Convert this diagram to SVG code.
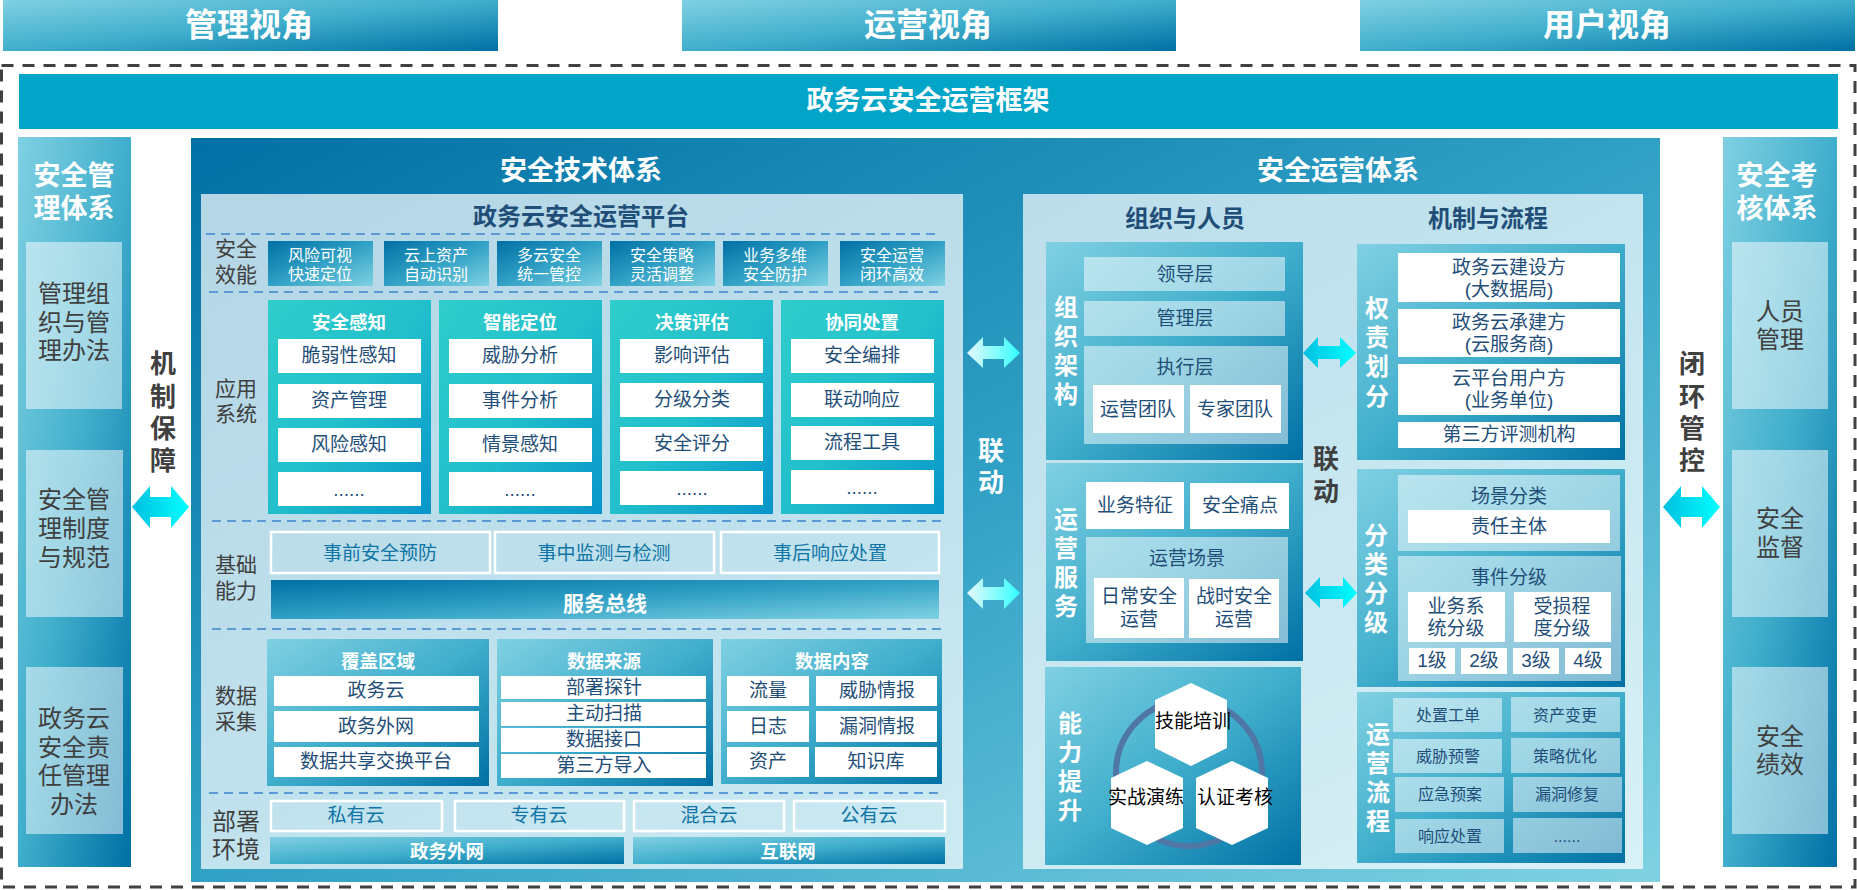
<svg xmlns="http://www.w3.org/2000/svg" width="1857" height="890" viewBox="0 0 1857 890">
<style>
text{font-family:"Liberation Sans","Noto Sans CJK SC",sans-serif;text-anchor:middle;dominant-baseline:central;transform:translateY(-2px)}
tspan{dominant-baseline:central}
.b{font-weight:700;fill:#fff}
.db{font-weight:700;fill:#404040}
.nb{font-weight:700;fill:#1F4E79}
.d{fill:#404040}
.n{fill:#1F4E79}
.t{fill:#0F75A6}
.w{fill:#fff}
.k{fill:#000}
.s16{font-size:16px}.s18{font-size:18.5px}.s19{font-size:19px}.s21{font-size:21px}.s24{font-size:24px}.s26{font-size:26px}.s27{font-size:27px}.s31{font-size:32px}
.dash{stroke:#5B9BD5;stroke-width:2;stroke-dasharray:9 6;fill:none}
.out{fill:none;stroke:#fff;stroke-width:2.5}
.wh{fill:#fff}
.li{fill:url(#lightDark)}
.da{fill:url(#darkLight)}
.pa{fill:#fff;fill-opacity:.5}
.pl{fill:#fff;fill-opacity:.7}
.te{fill:url(#teal)}
</style>
<defs>
<linearGradient id="lightDark" x1="0" y1="0" x2="1" y2="1"><stop offset="0" stop-color="#80D0E2"/><stop offset=".5" stop-color="#3FAECC"/><stop offset="1" stop-color="#0070A5"/></linearGradient>
<linearGradient id="darkLight" x1="0" y1="0" x2="1" y2="1"><stop offset="0" stop-color="#0070A5"/><stop offset=".5" stop-color="#30A0C5"/><stop offset="1" stop-color="#80D2E2"/></linearGradient>
<linearGradient id="teal" x1="0" y1="0" x2="1" y2="1"><stop offset="0" stop-color="#30CDCC"/><stop offset=".5" stop-color="#22BFCC"/><stop offset="1" stop-color="#0795CA"/></linearGradient>
<linearGradient id="cy" x1="0" y1="0" x2="1" y2="0"><stop offset="0" stop-color="#00BFE0"/><stop offset="1" stop-color="#00FFFF"/></linearGradient>
<linearGradient id="wc" x1="0" y1="0" x2="1" y2="0"><stop offset="0" stop-color="#E6F8FA"/><stop offset="1" stop-color="#33FFFF"/></linearGradient>
</defs>
<rect width="1857" height="890" fill="#fff"/>
<g id="view-mgmt"><rect class="li" x="3" width="495" height="51"/><text class="b s31" x="249" y="27">管理视角</text></g>
<g id="view-ops"><rect class="li" x="682" width="494" height="51"/><text class="b s31" x="928" y="27">运营视角</text></g>
<g id="view-user"><rect class="li" x="1360" width="495" height="51"/><text class="b s31" x="1607" y="27">用户视角</text></g>
<rect id="frame" x="1.5" y="65.5" width="1853.5" height="821.5" fill="none" stroke="#404040" stroke-width="3" stroke-dasharray="12 9"/>
<g id="title"><rect x="19" y="74" width="1819" height="55" fill="#02A5C7"/><text class="b s27" x="928" y="103">政务云安全运营框架</text></g>

<g id="mgmt-system"><rect class="li" x="18" y="137" width="113" height="730"/>
<text class="b s27"><tspan x="74" y="177.5">安全管</tspan><tspan x="74" y="210.5">理体系</tspan></text>
<rect class="pa" x="26" y="242" width="96" height="167"/><rect class="pa" x="26" y="450" width="97" height="167"/><rect class="pa" x="26" y="667" width="97" height="167"/>
<g class="d s24"><text><tspan x="74" y="295">管理组</tspan><tspan x="74" y="324">织与管</tspan><tspan x="74" y="352">理办法</tspan></text>
<text><tspan x="74" y="501">安全管</tspan><tspan x="74" y="530">理制度</tspan><tspan x="74" y="559">与规范</tspan></text>
<text><tspan x="74" y="720">政务云</tspan><tspan x="74" y="749">安全责</tspan><tspan x="74" y="777">任管理</tspan><tspan x="74" y="806">办法</tspan></text></g></g>

<g id="assess-system"><rect class="li" x="1723" y="137" width="114" height="730"/>
<text class="b s27"><tspan x="1777" y="177.5">安全考</tspan><tspan x="1777" y="210.5">核体系</tspan></text>
<rect class="pa" x="1732" y="242" width="96" height="167"/><rect class="pa" x="1732" y="450" width="96" height="167"/><rect class="pa" x="1732" y="667" width="96" height="167"/>
<g class="d s24"><text><tspan x="1780" y="313">人员</tspan><tspan x="1780" y="341">管理</tspan></text><text><tspan x="1780" y="520">安全</tspan><tspan x="1780" y="549">监督</tspan></text><text><tspan x="1780" y="738">安全</tspan><tspan x="1780" y="766">绩效</tspan></text></g></g>

<g id="mechanism-label"><text class="db s26"><tspan x="163" y="366">机</tspan><tspan x="163" y="399">制</tspan><tspan x="163" y="431">保</tspan><tspan x="163" y="463">障</tspan></text></g>
<g id="closed-loop-label"><text class="db s26"><tspan x="1692" y="366">闭</tspan><tspan x="1692" y="399">环</tspan><tspan x="1692" y="431">管</tspan><tspan x="1692" y="463">控</tspan></text></g>

<g id="main-panel"><rect class="da" x="191" y="138" width="1469" height="744"/>
<text class="b s27" x="581" y="173">安全技术体系</text><text class="b s27" x="1338" y="173">安全运营体系</text></g>

<g id="platform"><rect class="pl" x="201" y="194" width="762" height="675"/>
<text class="s24 nb" x="581" y="218">政务云安全运营平台</text>
<path class="dash" d="M206 234H940M209 292H942M212 521H945M212 629H945M209 793H942"/>
<g class="d s21"><text><tspan x="236" y="250">安全</tspan><tspan x="236" y="276">效能</tspan></text><text><tspan x="236" y="390">应用</tspan><tspan x="236" y="415">系统</tspan></text><text><tspan x="236" y="566">基础</tspan><tspan x="236" y="592">能力</tspan></text><text><tspan x="236" y="697">数据</tspan><tspan x="236" y="723">采集</tspan></text></g>
<text class="d s24"><tspan x="236" y="823">部署</tspan><tspan x="236" y="851">环境</tspan></text></g>

<g id="benefits">
<rect class="da" x="268" y="241" width="105" height="45"/><rect class="da" x="384" y="241" width="105" height="45"/><rect class="da" x="497" y="241" width="105" height="45"/><rect class="da" x="610" y="241" width="105" height="45"/><rect class="da" x="723" y="241" width="105" height="45"/><rect class="da" x="840" y="241" width="105" height="45"/>
<g class="w s16"><text><tspan x="320" y="257">风险可视</tspan><tspan x="320" y="276">快速定位</tspan></text><text><tspan x="436" y="257">云上资产</tspan><tspan x="436" y="276">自动识别</tspan></text><text><tspan x="549" y="257">多云安全</tspan><tspan x="549" y="276">统一管控</tspan></text><text><tspan x="662" y="257">安全策略</tspan><tspan x="662" y="276">灵活调整</tspan></text><text><tspan x="775" y="257">业务多维</tspan><tspan x="775" y="276">安全防护</tspan></text><text><tspan x="892" y="257">安全运营</tspan><tspan x="892" y="276">闭环高效</tspan></text></g></g>

<g id="card-perceive"><rect class="te" x="268" y="300" width="163" height="214"/><text class="b s18" x="349" y="324">安全感知</text>
<rect class="wh" x="278" y="339" width="143" height="34"/><rect class="wh" x="278" y="384" width="143" height="34"/><rect class="wh" x="278" y="428" width="143" height="34"/><rect class="wh" x="278" y="472" width="143" height="34"/>
<g class="n s19"><text x="349" y="357">脆弱性感知</text><text x="349" y="402">资产管理</text><text x="349" y="446">风险感知</text><text x="349" y="491">......</text></g></g>
<g id="card-locate"><rect class="te" x="439" y="300" width="163" height="214"/><text class="b s18" x="520" y="324">智能定位</text>
<rect class="wh" x="449" y="339" width="143" height="34"/><rect class="wh" x="449" y="384" width="143" height="34"/><rect class="wh" x="449" y="428" width="143" height="34"/><rect class="wh" x="449" y="472" width="143" height="34"/>
<g class="n s19"><text x="520" y="357">威胁分析</text><text x="520" y="402">事件分析</text><text x="520" y="446">情景感知</text><text x="520" y="491">......</text></g></g>
<g id="card-decide"><rect class="te" x="610" y="300" width="163" height="214"/><text class="b s18" x="692" y="324">决策评估</text>
<rect class="wh" x="620" y="339" width="143" height="34"/><rect class="wh" x="620" y="383" width="143" height="34"/><rect class="wh" x="620" y="427" width="143" height="34"/><rect class="wh" x="620" y="471" width="143" height="34"/>
<g class="n s19"><text x="692" y="357">影响评估</text><text x="692" y="401">分级分类</text><text x="692" y="445">安全评分</text><text x="692" y="490">......</text></g></g>
<g id="card-respond"><rect class="te" x="781" y="300" width="163" height="214"/><text class="b s18" x="862" y="324">协同处置</text>
<rect class="wh" x="791" y="339" width="143" height="34"/><rect class="wh" x="791" y="383" width="143" height="34"/><rect class="wh" x="791" y="426" width="143" height="34"/><rect class="wh" x="791" y="470" width="143" height="34"/>
<g class="n s19"><text x="862" y="357">安全编排</text><text x="862" y="401">联动响应</text><text x="862" y="444">流程工具</text><text x="862" y="489">......</text></g></g>

<g id="capability">
<rect class="out" x="271" y="532" width="219" height="41"/><rect class="out" x="495" y="532" width="219" height="41"/><rect class="out" x="721" y="532" width="218" height="41"/>
<g class="t s19"><text x="380" y="555">事前安全预防</text><text x="604" y="555">事中监测与检测</text><text x="830" y="555">事后响应处置</text></g>
<rect class="da" x="271" y="580" width="668" height="39"/><text class="b s21" x="605" y="605">服务总线</text></g>

<g id="data-coverage"><rect class="li" x="267" y="639" width="222" height="147"/><text class="b s18" x="378" y="663">覆盖区域</text>
<rect class="wh" x="274" y="676" width="205" height="30"/><rect class="wh" x="274" y="711" width="205" height="31"/><rect class="wh" x="274" y="747" width="205" height="30"/>
<g class="n s19"><text x="376" y="692">政务云</text><text x="376" y="728">政务外网</text><text x="376" y="763">数据共享交换平台</text></g></g>
<g id="data-source"><rect class="li" x="497" y="639" width="216" height="147"/><text class="b s18" x="604" y="663">数据来源</text>
<rect class="wh" x="501" y="676" width="205" height="23"/><rect class="wh" x="501" y="702" width="205" height="24"/><rect class="wh" x="501" y="728" width="205" height="24"/><rect class="wh" x="501" y="754" width="205" height="24"/>
<g class="n s19"><text x="604" y="689">部署探针</text><text x="604" y="715">主动扫描</text><text x="604" y="741">数据接口</text><text x="604" y="767">第三方导入</text></g></g>
<g id="data-content"><rect class="li" x="721" y="639" width="221" height="145"/><text class="b s18" x="832" y="663">数据内容</text>
<rect class="wh" x="727" y="676" width="82" height="30"/><rect class="wh" x="816" y="676" width="121" height="30"/><rect class="wh" x="727" y="711" width="82" height="31"/><rect class="wh" x="816" y="711" width="121" height="31"/><rect class="wh" x="727" y="747" width="82" height="30"/><rect class="wh" x="815" y="747" width="122" height="30"/>
<g class="n s19"><text x="768" y="692">流量</text><text x="877" y="692">威胁情报</text><text x="768" y="728">日志</text><text x="877" y="728">漏洞情报</text><text x="768" y="763">资产</text><text x="876" y="763">知识库</text></g></g>

<g id="deploy">
<rect class="out" x="271" y="801" width="171" height="30"/><rect class="out" x="455" y="801" width="169" height="30"/><rect class="out" x="634" y="801" width="150" height="30"/><rect class="out" x="794" y="801" width="151" height="30"/>
<g class="t s19"><text x="356" y="817">私有云</text><text x="539" y="817">专有云</text><text x="709" y="817">混合云</text><text x="869" y="817">公有云</text></g>
<rect class="li" x="270" y="837" width="354" height="27"/><rect class="li" x="633" y="837" width="312" height="27"/>
<text class="b s18" x="447" y="853">政务外网</text><text class="b s18" x="788" y="853">互联网</text></g>

<g id="ops-panel"><rect class="pl" x="1023" y="194" width="620" height="675"/>
<text class="s24 nb" x="1185" y="220">组织与人员</text><text class="s24 nb" x="1488" y="220">机制与流程</text></g>

<g id="org"><rect class="li" x="1046" y="242" width="257" height="218"/>
<text class="b s24"><tspan x="1066" y="309">组</tspan><tspan x="1066" y="338">织</tspan><tspan x="1066" y="367">架</tspan><tspan x="1066" y="396">构</tspan></text>
<rect class="pa" x="1084" y="257" width="201" height="34"/><rect class="pa" x="1084" y="301" width="201" height="35"/><rect class="pa" x="1084" y="346" width="204" height="98"/>
<rect class="wh" x="1093" y="385" width="91" height="48"/><rect class="wh" x="1190" y="385" width="91" height="48"/>
<g class="n s19"><text x="1185" y="276">领导层</text><text x="1185" y="320">管理层</text><text x="1185" y="369">执行层</text><text x="1138" y="411">运营团队</text><text x="1235" y="411">专家团队</text></g></g>

<g id="service"><rect class="li" x="1046" y="463" width="257" height="198"/>
<text class="b s24"><tspan x="1066" y="521">运</tspan><tspan x="1066" y="550">营</tspan><tspan x="1066" y="579">服</tspan><tspan x="1066" y="608">务</tspan></text>
<rect class="wh" x="1086" y="482" width="98" height="47"/><rect class="wh" x="1190" y="483" width="99" height="46"/><rect class="pa" x="1086" y="537" width="202" height="106"/>
<rect class="wh" x="1094" y="578" width="90" height="60"/><rect class="wh" x="1189" y="579" width="90" height="59"/>
<g class="n s19"><text x="1135" y="507">业务特征</text><text x="1240" y="507">安全痛点</text><text x="1187" y="560">运营场景</text><text><tspan x="1139" y="598">日常安全</tspan><tspan x="1139" y="621">运营</tspan></text><text><tspan x="1234" y="598">战时安全</tspan><tspan x="1234" y="621">运营</tspan></text></g></g>

<g id="ability"><rect class="li" x="1045" y="667" width="256" height="198"/>
<text class="b s24"><tspan x="1070" y="725">能</tspan><tspan x="1070" y="754">力</tspan><tspan x="1070" y="783">提</tspan><tspan x="1070" y="812">升</tspan></text>
<circle cx="1189" cy="773" r="73" fill="none" stroke="#4F77A5" stroke-width="6"/>
<polygon class="wh" points="1191,683 1227,700 1227,748 1191,766 1155,748 1155,700"/>
<polygon class="wh" points="1147,761 1183,778 1183,828 1147,845 1111,828 1111,778"/>
<polygon class="wh" points="1232,761 1268,778 1268,828 1232,845 1196,828 1196,778"/>
<g class="k s19"><text x="1193" y="723">技能培训</text><text x="1146" y="799">实战演练</text><text x="1235" y="799">认证考核</text></g></g>

<g id="duty"><rect class="li" x="1357" y="244" width="268" height="216"/>
<text class="b s24"><tspan x="1377" y="310">权</tspan><tspan x="1377" y="339">责</tspan><tspan x="1377" y="368">划</tspan><tspan x="1377" y="398">分</tspan></text>
<rect class="wh" x="1398" y="253" width="222" height="49"/><rect class="wh" x="1398" y="309" width="222" height="48"/><rect class="wh" x="1398" y="364" width="222" height="51"/><rect class="wh" x="1398" y="422" width="222" height="26"/>
<g class="n s19"><text><tspan x="1509" y="269">政务云建设方</tspan><tspan x="1509" y="291">(大数据局)</tspan></text><text><tspan x="1509" y="324">政务云承建方</tspan><tspan x="1509" y="346">(云服务商)</tspan></text><text><tspan x="1509" y="380">云平台用户方</tspan><tspan x="1509" y="402">(业务单位)</tspan></text><text x="1509" y="436">第三方评测机构</text></g></g>

<g id="classify"><rect class="li" x="1357" y="469" width="268" height="218"/>
<text class="b s24"><tspan x="1376" y="537">分</tspan><tspan x="1376" y="566">类</tspan><tspan x="1376" y="595">分</tspan><tspan x="1376" y="624">级</tspan></text>
<rect class="pa" x="1398" y="475" width="222" height="76"/><rect class="wh" x="1408" y="510" width="202" height="33"/>
<rect class="pa" x="1398" y="556" width="223" height="125"/>
<rect class="wh" x="1408" y="592" width="97" height="50"/><rect class="wh" x="1514" y="592" width="97" height="50"/>
<rect class="wh" x="1409" y="648" width="46" height="26"/><rect class="wh" x="1461" y="648" width="46" height="26"/><rect class="wh" x="1513" y="648" width="46" height="26"/><rect class="wh" x="1565" y="648" width="46" height="26"/>
<g class="n s19"><text x="1509" y="498">场景分类</text><text x="1509" y="528">责任主体</text><text x="1509" y="579">事件分级</text><text><tspan x="1456" y="608">业务系</tspan><tspan x="1456" y="630">统分级</tspan></text><text><tspan x="1562" y="608">受损程</tspan><tspan x="1562" y="630">度分级</tspan></text><text x="1432" y="662">1级</text><text x="1484" y="662">2级</text><text x="1536" y="662">3级</text><text x="1588" y="662">4级</text></g></g>

<g id="process"><rect class="li" x="1357" y="692" width="268" height="171"/>
<text class="b s24"><tspan x="1378" y="736">运</tspan><tspan x="1378" y="765">营</tspan><tspan x="1378" y="794">流</tspan><tspan x="1378" y="823">程</tspan></text>
<rect class="pa" x="1393" y="698" width="109" height="34"/><rect class="pa" x="1511" y="697" width="109" height="35"/><rect class="pa" x="1393" y="739" width="109" height="34"/><rect class="pa" x="1511" y="738" width="109" height="35"/><rect class="pa" x="1395" y="777" width="109" height="35"/><rect class="pa" x="1513" y="777" width="109" height="35"/><rect class="pa" x="1395" y="819" width="109" height="34"/><rect class="pa" x="1513" y="818" width="109" height="35"/>
<g class="n s16"><text x="1448" y="717">处置工单</text><text x="1565" y="717">资产变更</text><text x="1448" y="758">威胁预警</text><text x="1565" y="758">策略优化</text><text x="1450" y="796">应急预案</text><text x="1567" y="796">漏洞修复</text><text x="1450" y="838">响应处置</text><text x="1567" y="838">......</text></g></g>

<g id="connectors">
<polygon fill="url(#cy)" points="132,507 150,486 150,497 171,497 171,486 189,507 171,528 171,517 150,517 150,528"/>
<polygon fill="url(#cy)" points="1663,507 1681,486 1681,497 1702,497 1702,486 1720,507 1702,528 1702,517 1681,517 1681,528"/>
<polygon fill="url(#wc)" points="967,353 983,337 983,346 1004,346 1004,337 1020,353 1004,368 1004,359 983,359 983,368"/>
<polygon fill="url(#wc)" points="967,593 983,578 983,587 1004,587 1004,578 1020,593 1004,609 1004,600 983,600 983,609"/>
<polygon fill="url(#cy)" points="1303,353 1318,337 1318,346 1340,346 1340,337 1356,353 1340,368 1340,359 1318,359 1318,368"/>
<polygon fill="url(#cy)" points="1305,593 1320,577 1320,586 1343,586 1343,577 1357,593 1343,608 1343,599 1320,599 1320,608"/>
</g>
<g id="link-left"><text class="b s26"><tspan x="991" y="453">联</tspan><tspan x="991" y="485">动</tspan></text></g>
<g id="link-right"><text class="db s26"><tspan x="1326" y="461">联</tspan><tspan x="1326" y="494">动</tspan></text></g>
</svg>
